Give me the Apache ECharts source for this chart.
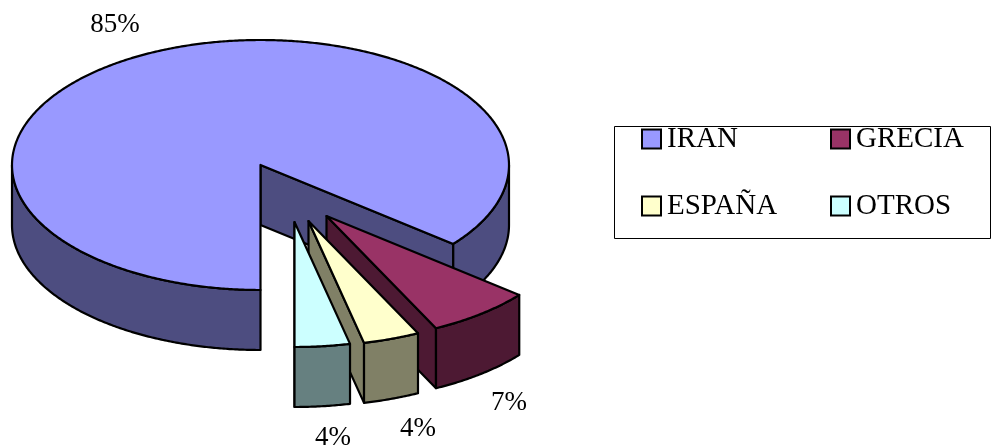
<!DOCTYPE html>
<html>
<head>
<meta charset="utf-8">
<style>html,body{margin:0;padding:0;background:#fff}#chart{width:992px;height:448px}</style>
<script src="https://cdn.jsdelivr.net/npm/echarts@6/dist/echarts.min.js"></script>
</head>
<body>
<div id="chart"></div>
<script>
// Import shares by origin, in percent
const categories = ['IRAN', 'GRECIA', 'ESPAÑA', 'OTROS'];
const shares = [85, 7, 4, 4];

// Top and wall colours for each slice
const topColors = ['#9999FF', '#993366', '#FFFFCC', '#CCFFFF'];
const wallColors = ['#4D4D80', '#4D1933', '#808066', '#668080'];

// Tilted pie geometry: ellipse centre and radii, wall height, first slice angle.
// planStretch is the foreshortening of plan angles when they are laid on the ellipse.
const pie = { cx: 260.5, cy: 165, rx: 248.5, ry: 125, depth: 60, startDeg: 90, planStretch: 1.12 };
// How far each slice is pulled out of the pie, in pixels
const pullOut = [[0, 0], [66, 51], [48, 56], [34, 57]];
// Where each percentage label is centred
const labelSpots = [[115, 25], [509, 403], [418, 429], [333, 438]];

const total = shares.reduce((a, b) => a + b, 0);
const outline = { stroke: '#000', lineWidth: 2.2, lineJoin: 'round' };

function rimPoint(deg, ox, oy, drop) {
  const r = deg * Math.PI / 180;
  const t = Math.atan2(pie.planStretch * Math.sin(r), Math.cos(r));
  return [pie.cx + ox + pie.rx * Math.cos(t), pie.cy + oy + drop + pie.ry * Math.sin(t)];
}
function arc(from, to, ox, oy, drop) {
  const pts = [];
  const steps = Math.max(2, Math.ceil((to - from) * 2));
  for (let i = 0; i <= steps; i++) {
    pts.push(rimPoint(from + (to - from) * i / steps, ox, oy, drop));
  }
  return pts;
}
function poly(points, fill) {
  return { type: 'polygon', shape: { points }, style: Object.assign({ fill }, outline) };
}

function renderSlice(index, value) {
  const before = shares.slice(0, index).reduce((a, b) => a + b, 0);
  const a0 = pie.startDeg + before / total * 360;
  const a1 = a0 + value / total * 360;
  const [ox, oy] = pullOut[index];
  const apex = [pie.cx + ox, pie.cy + oy];
  const children = [];

  // Cut face on the clockwise end of the slice
  const endTop = rimPoint(a1, ox, oy, 0);
  const endLow = rimPoint(a1, ox, oy, pie.depth);
  children.push(poly([apex, endTop, endLow, [apex[0], apex[1] + pie.depth]], wallColors[index]));

  // Outer wall, only where the rim faces the viewer (0 to 180 degrees, modulo a turn)
  for (let k = 0; k <= 1; k++) {
    const from = Math.max(a0, k * 360);
    const to = Math.min(a1, k * 360 + 180);
    if (to > from) {
      children.push(poly(
        arc(from, to, ox, oy, 0).concat(arc(from, to, ox, oy, pie.depth).reverse()),
        wallColors[index]
      ));
    }
  }

  // Top face
  children.push(poly([apex].concat(arc(a0, a1, ox, oy, 0)), topColors[index]));

  // Percentage label
  children.push({
    type: 'text',
    style: {
      text: value + '%',
      x: labelSpots[index][0],
      y: labelSpots[index][1],
      fill: '#000',
      font: '27px "Liberation Serif", serif',
      textAlign: 'center',
      textVerticalAlign: 'middle'
    }
  });
  return { type: 'group', children };
}

const legendBase = {
  orient: 'vertical',
  top: 124,
  icon: 'rect',
  itemWidth: 19,
  itemHeight: 19,
  itemGap: 37,
  selectedMode: false,
  padding: 0,
  itemStyle: { borderColor: '#000', borderWidth: 2 },
  textStyle: { color: '#000', fontFamily: '"Liberation Serif", serif', fontSize: 29, lineHeight: 30, padding: [0, 0, 0, 1] }
};

const chart = echarts.init(document.getElementById('chart'), null, { renderer: 'canvas' });
chart.setOption({
  animation: false,
  backgroundColor: '#fff',
  legend: [
    Object.assign({}, legendBase, { left: 641, data: [categories[0], categories[2]] }),
    Object.assign({}, legendBase, { left: 830, data: [categories[1], categories[3]] })
  ],
  graphic: [{
    type: 'rect',
    z: -1,
    shape: { x: 614.5, y: 126.5, width: 376, height: 112 },
    style: { fill: '#fff', stroke: '#000', lineWidth: 1 }
  }],
  series: categories.map((name, i) => ({
    type: 'custom',
    name,
    coordinateSystem: 'none',
    silent: true,
    itemStyle: { color: topColors[i] },
    data: [[shares[i]]],
    renderItem: (params, api) => renderSlice(i, api.value(0))
  }))
});
</script>
</body>
</html>
